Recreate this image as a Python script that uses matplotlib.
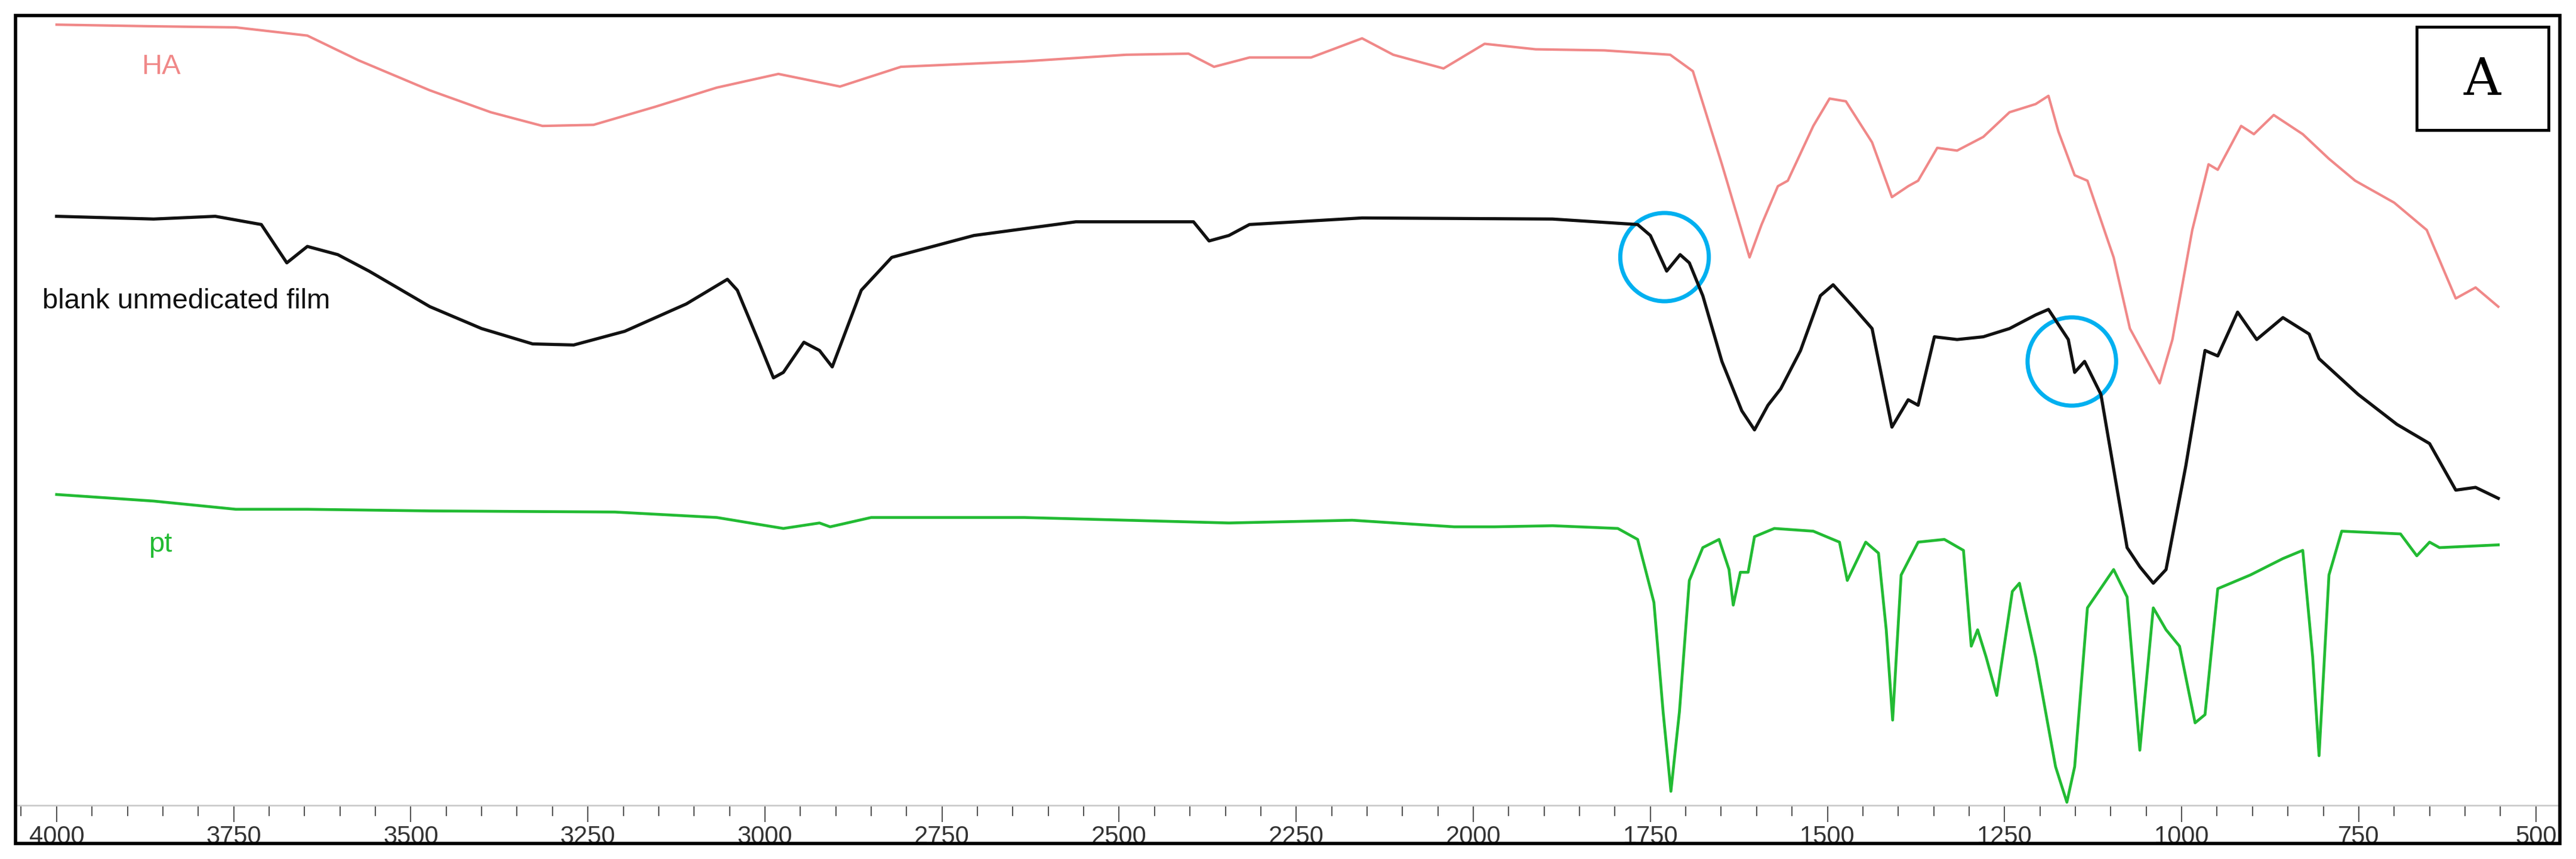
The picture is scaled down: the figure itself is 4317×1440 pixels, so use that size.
import matplotlib
matplotlib.use("Agg")
import matplotlib.pyplot as plt
from matplotlib.patches import Ellipse, Rectangle
from matplotlib.ticker import MultipleLocator

# y values: screen-style depth (larger = lower on the chart)
ha_wn = [4000,3863,3747,3646,3574,3473,3387,3314,3242,3155,3068,2981,2894,2808,2634,2490,2402,2366,2316,2229,2157,2113,2042,1984,1912,1815,
         1722,1690,1649,1610,1593,1570,1556,1520,1497,1474,1437,1409,1386,1372,1345,1317,1280,1243,1206,1188,1174,1151,1133,1096,1073,1031,1013,985,962,949,916,898,870,829,792,755,700,654,613,585,553]
ha_y = [45,48,50,65,110,165,205,230,228,195,160,135,158,122,112,100,98,122,105,105,70,100,125,80,90,92,
        100,130,300,470,410,340,330,230,180,185,260,360,340,330,270,275,250,205,190,175,240,320,330,470,600,700,620,420,300,310,230,245,210,245,290,330,370,420,545,525,560]

film_wn = [4000,3863,3776,3711,3675,3646,3603,3559,3473,3400,3328,3270,3198,3111,3053,3039,3010,2988,2974,2945,2923,2905,2864,2821,2705,2561,2395,2373,2345,2316,2157,1888,
           1768,1750,1727,1708,1695,1676,1649,1621,1603,1584,1566,1538,1510,1492,1464,1437,1409,1386,1372,1349,1317,1280,1243,1206,1188,1160,1151,1137,1114,1077,1059,1040,1022,994,967,949,921,894,857,820,806,751,696,650,613,585,553]
film_y = [395,400,395,410,480,450,465,495,560,600,628,630,605,555,510,530,620,690,680,625,640,670,530,470,430,405,405,440,430,410,398,400,
          410,430,495,465,480,540,660,750,785,740,710,640,540,520,560,600,780,730,740,615,620,615,600,575,565,620,680,660,720,1000,1035,1065,1040,850,640,650,570,620,580,610,655,720,775,810,895,890,910]

pt_wn = [4000,3863,3747,3646,3473,3212,3068,2974,2923,2908,2850,2634,2345,2171,2027,1970,1888,1796,1768,1745,1732,1721,1709,1695,1676,1653,1639,1633,1623,1612,1603,1575,1520,1483,1472,1446,1428,1417,1408,1396,1372,1335,1308,1297,1288,1276,1261,1239,1229,1206,1178,1162,1151,1133,1096,1077,1059,1040,1022,1003,981,967,949,903,857,829,815,806,792,774,691,668,650,636,553]
pt_y = [903,915,930,930,933,935,945,965,955,962,945,945,955,950,962,962,960,965,985,1100,1300,1445,1300,1060,1000,985,1040,1105,1045,1045,980,965,970,990,1060,990,1010,1150,1315,1050,990,985,1005,1180,1150,1200,1270,1080,1065,1200,1400,1465,1400,1110,1040,1090,1370,1110,1150,1180,1320,1305,1075,1050,1020,1005,1200,1380,1050,970,975,1015,990,1000,995]

yscale = 0.918
W, H = 4317, 1440
fig = plt.figure(figsize=(W/100, H/100), dpi=100)
ax = fig.add_axes([26/W, (H-1350)/H, (4290-26)/W, (1350-26)/H])
ax.plot(ha_wn, [v*yscale for v in ha_y], color="#f08888", lw=3)
ax.plot(film_wn, [v*yscale for v in film_y], color="#111111", lw=3.8)
ax.plot(pt_wn, [v*yscale for v in pt_y], color="#22bb33", lw=3.4)
ax.set_xlim(4058, 466)
ax.set_ylim(1350, 26)
ax.set_yticks([])
for s in ["top", "left", "right"]:
    ax.spines[s].set_visible(False)
ax.spines["bottom"].set_color("#cccccc")
ax.spines["bottom"].set_linewidth(2)
ax.xaxis.set_major_locator(MultipleLocator(250))
ax.xaxis.set_minor_locator(MultipleLocator(50))
ax.tick_params(axis="x", which="major", length=20, width=1.5, color="#555555",
               labelsize=30, labelcolor="#333333", pad=4)
ax.tick_params(axis="x", which="minor", length=13, width=1.5, color="#555555")
for t in ax.get_xticklabels():
    t.set_fontfamily("Liberation Sans")

ax.text(3880, 112, "HA", color="#f08888", fontsize=34, va="center", family="Liberation Sans")
ax.text(4020, 505, "blank unmedicated film", color="#111111", fontsize=34, va="center", family="Liberation Sans")
ax.text(3870, 913, "pt", color="#22bb33", fontsize=34, va="center", family="Liberation Sans")

ax.add_patch(Ellipse((1730, 431), 125, 148, fill=False, ec="#00b0f0", lw=5))
ax.add_patch(Ellipse((1155, 606), 125, 148, fill=False, ec="#00b0f0", lw=5))

fig.patches.append(Rectangle((26/W, (H-1414)/H), (4290-26)/W, (1414-26)/H,
                             transform=fig.transFigure, fill=False, ec="black", lw=4))
fig.patches.append(Rectangle((4050/W, (H-218)/H), (4271-4050)/W, (218-45)/H,
                             transform=fig.transFigure, fill=False, ec="black", lw=3.5))
fig.text(4160/W, (H-135)/H, "A", fontsize=62, family="DejaVu Serif", ha="center", va="center")

fig.savefig("out.png", dpi=100)
